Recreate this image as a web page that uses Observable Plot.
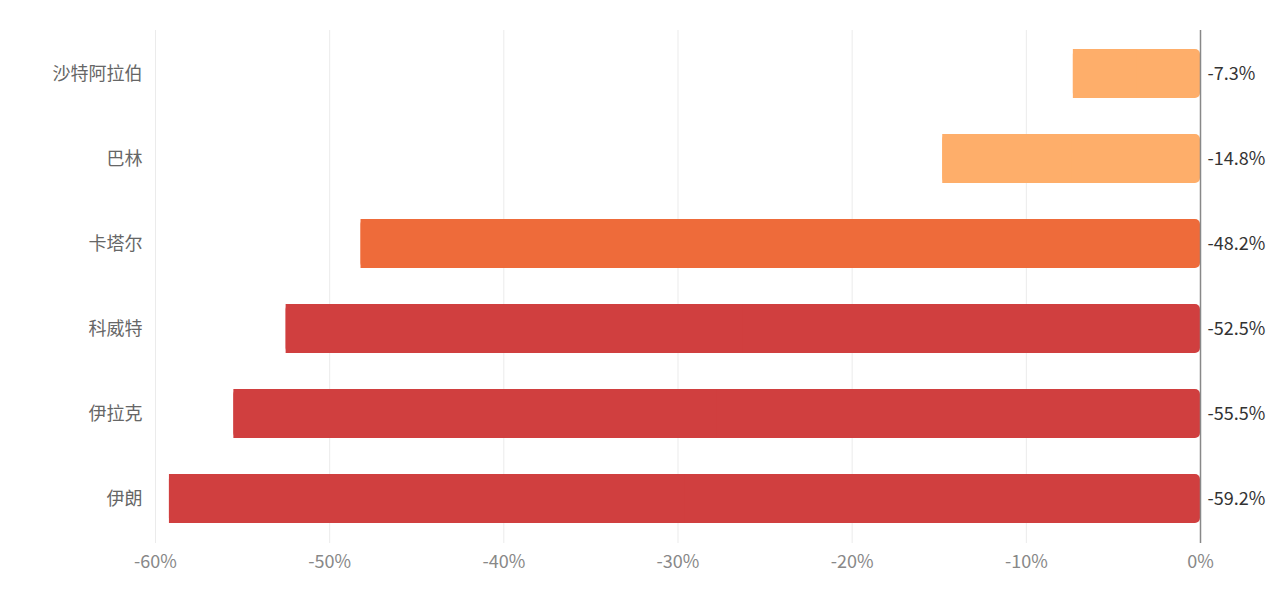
<!DOCTYPE html>
<html><head><meta charset="utf-8">
<script src="https://cdn.jsdelivr.net/npm/d3@7"></script>
<script src="https://cdn.jsdelivr.net/npm/@observablehq/plot@0.6"></script>
<style>body{margin:0;background:#fff;font-family:"Noto Sans CJK SC","Noto Sans",sans-serif;}</style>
</head><body><div id="chart"></div>
<script>
const countries = ["沙特阿拉伯","巴林","卡塔尔","科威特","伊拉克","伊朗"];
const values = [-7.3,-14.8,-48.2,-52.5,-55.5,-59.2];
const colors = ["#FEAE6A","#FEAE6A","#EE6B3A","#D03F3F","#D03F3F","#D03F3F"];
const xTicks = [-60,-50,-40,-30,-20,-10,0];

const data = countries.map((c,i)=>({country:c, value:values[i], color:colors[i]}));

const chart = Plot.plot({
  width: 1278, height: 594,
  marginLeft: 155, marginRight: 78, marginTop: 30, marginBottom: 51,
  style: {fontFamily: '"Noto Sans CJK SC","Noto Sans",sans-serif', fontSize: "18px", background: "#fff"},
  x: {domain: [-60, 0], ticks: xTicks, tickFormat: d => d + "%", label: null},
  y: {domain: countries, paddingInner: 0.42, paddingOuter: 0.21, label: null},
  marks: [
    Plot.ruleX(xTicks.slice(0, -1), {stroke: "#ebebeb", strokeWidth: 1}),
    Plot.barX(data, {y: "country", x1: "value", x2: 0, fill: d => d.color, rx: 5}),
    Plot.barX(data, {y: "country", x1: "value", x2: d => d.value / 2, fill: d => d.color}),
    Plot.ruleX([0], {stroke: "#888", strokeWidth: 1.5}),
    Plot.text(data, {y: "country", x: 0, text: d => d.value.toFixed(1) + "%", dx: 7, textAnchor: "start", fill: "#333", fontSize: 18}),
    Plot.axisX({ticks: xTicks, tickFormat: d => d + "%", tickSize: 0, tickPadding: 12, fill: "#888", fontSize: 18}),
    Plot.axisY({tickSize: 0, tickPadding: 13, fill: "#666", fontSize: 18})
  ]
});
document.getElementById("chart").appendChild(chart);
</script></body></html>
